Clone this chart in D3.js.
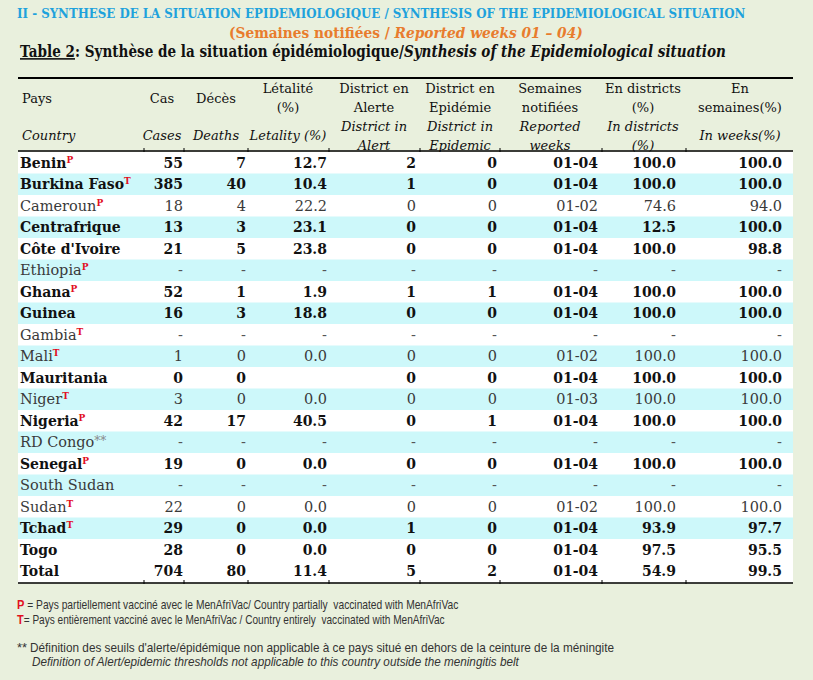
<!DOCTYPE html>
<html lang="fr">
<head>
<meta charset="UTF-8">
<title>Synthèse de la situation épidémiologique</title>
<script src="https://cdnjs.cloudflare.com/ajax/libs/d3/7.8.5/d3.min.js"></script>
<style>
  body { margin: 0; background: #e9f0dd; }
  svg { display: block; }
  .cell { font-family: "DejaVu Serif", serif; }
  .note { font-family: "Liberation Sans", "Open Sans", sans-serif; font-size: 12px; fill: #333; }
</style>
</head>
<body>
<svg id="chart" width="813" height="680"></svg>
<script>
const countries = ["Benin", "Burkina Faso", "Cameroun", "Centrafrique", "Côte d'Ivoire", "Ethiopia",
  "Ghana", "Guinea", "Gambia", "Mali", "Mauritania", "Niger", "Nigeria", "RD Congo**", "Senegal",
  "South Sudan", "Sudan", "Tchad", "Togo", "Total"];
const vaccine = ["P", "T", "P", "", "", "P", "P", "", "T", "T", "", "T", "P", "", "P", "", "T", "T", "", ""];
const boldRow = [1, 1, 0, 1, 1, 0, 1, 1, 0, 0, 1, 0, 1, 0, 1, 0, 0, 1, 1, 1];
// null = "-", "" = empty cell
const cases    = [55, 385, 18, 13, 21, null, 52, 16, null, 1, 0, 3, 42, null, 19, null, 22, 29, 28, 704];
const deaths   = [7, 40, 4, 3, 5, null, 1, 3, null, 0, 0, 0, 17, null, 0, null, 0, 0, 0, 80];
const letality = [12.7, 10.4, 22.2, 23.1, 23.8, null, 1.9, 18.8, null, 0, "", 0, 40.5, null, 0, null, 0, 0, 0, 11.4];
const alertD   = [2, 1, 0, 0, 0, null, 1, 0, null, 0, 0, 0, 0, null, 0, null, 0, 1, 0, 5];
const epidemicD = [0, 0, 0, 0, 0, null, 1, 0, null, 0, 0, 0, 1, null, 0, null, 0, 0, 0, 2];
const weeks    = ["01-04", "01-04", "01-02", "01-04", "01-04", null, "01-04", "01-04", null, "01-02",
  "01-04", "01-03", "01-04", null, "01-04", null, "01-02", "01-04", "01-04", "01-04"];
const inDistricts = [100, 100, 74.6, 12.5, 100, null, 100, 100, null, 100, 100, 100, 100, null, 100, null, 100, 93.9, 97.5, 54.9];
const inWeeks  = [100, 100, 94, 100, 98.8, null, 100, 100, null, 100, 100, 100, 100, null, 100, null, 100, 97.7, 95.5, 99.5];

const svg = d3.select("#chart");
const left = 18, right = 793;
const f1 = d3.format(".1f");

// value columns: right edge of the numbers
const columns = [
  {vals: cases, x: 183},
  {vals: deaths, x: 246},
  {vals: letality, x: 327, fmt: f1},
  {vals: alertD, x: 416},
  {vals: epidemicD, x: 497},
  {vals: weeks, x: 598},
  {vals: inDistricts, x: 676, fmt: f1},
  {vals: inWeeks, x: 782, fmt: f1}
];
const separators = [144, 184, 248, 329, 420, 500, 602, 686];

// squeeze a text horizontally so it spans exactly `width` px from (x, y)
function fitText(sel, x, y, width) {
  const natural = sel.node().getComputedTextLength();
  sel.attr("x", 0).attr("y", 0)
    .attr("transform", `translate(${x},${y}) scale(${width / natural},1)`);
}

// ---- titles ----
svg.append("text")
  .style("font", "bold 13.5px 'DejaVu Serif', serif").style("fill", "#1ea2dc")
  .text("II - SYNTHESE DE LA SITUATION EPIDEMIOLOGIQUE / SYNTHESIS OF THE EPIDEMIOLOGICAL SITUATION")
  .call(fitText, 17, 18, 729);

const t2 = svg.append("text")
  .style("font", "bold 15px 'DejaVu Serif', serif").style("fill", "#e87c2d");
t2.append("tspan").text("(Semaines notifiées / ");
t2.append("tspan").style("font-style", "italic").text("Reported weeks 01 – 04)");
t2.call(fitText, 229, 38, 354);

const t3 = svg.append("text")
  .style("font", "bold 16px 'DejaVu Serif', serif").style("fill", "#111");
t3.append("tspan").style("text-decoration", "underline").text("Table 2");
t3.append("tspan").text(": Synthèse de la situation épidémiologique/");
t3.append("tspan").style("font-style", "italic").text("Synthesis of the Epidemiological situation");
t3.call(fitText, 20, 57, 706);

// ---- header ----
const header = [
  {x: 22, anchor: "start", fr: [["Pays", 98]], en: [["Country", 135]]},
  {x: 162, fr: [["Cas", 98]], en: [["Cases", 135]]},
  {x: 216, fr: [["Décès", 98]], en: [["Deaths", 135]]},
  {x: 288, fr: [["Létalité", 88], ["(%)", 107]], en: [["Letality (%)", 135]]},
  {x: 374, fr: [["District en", 88], ["Alerte", 107]], en: [["District in", 126], ["Alert", 145]]},
  {x: 460, fr: [["District en", 88], ["Epidémie", 107]], en: [["District in", 126], ["Epidemic", 145]]},
  {x: 550, fr: [["Semaines", 88], ["notifiées", 107]], en: [["Reported", 126], ["weeks", 145]]},
  {x: 643, fr: [["En districts", 88], ["(%)", 107]], en: [["In districts", 126], ["(%)", 145]]},
  {x: 740, fr: [["En", 88], ["semaines(%)", 107]], en: [["In weeks(%)", 135]]}
];
header.forEach(h => {
  const lines = h.fr.map(d => ({t: d[0], y: d[1], it: false}))
    .concat(h.en.map(d => ({t: d[0], y: d[1], it: true})));
  svg.selectAll(null).data(lines).enter().append("text")
    .attr("class", "cell")
    .attr("x", h.x).attr("y", d => d.y).attr("dy", "0.35em")
    .attr("text-anchor", h.anchor || "middle")
    .style("font-size", "13px")
    .style("font-style", d => d.it ? "italic" : "normal")
    .style("fill", "#111")
    .text(d => d.t);
});

// ---- rows ----
const y = d3.scaleBand().domain(d3.range(countries.length)).range([152, 582]);

svg.selectAll(".band").data(countries).enter().append("rect")
  .attr("class", "band")
  .attr("x", left).attr("width", right - left)
  .attr("y", (d, i) => y(i)).attr("height", y.bandwidth() + 0.5)
  .style("fill", (d, i) => (i % 2 === 1 && d !== "Total") ? "#cdf8fa" : "#ffffff");

const rowText = (sel, i) => sel
  .style("font-size", boldRow[i] ? "14px" : "14.5px")
  .style("font-weight", boldRow[i] ? "bold" : "normal")
  .style("fill", boldRow[i] ? "#111" : "#3a3a3a");

countries.forEach((c, i) => {
  const cy = y(i) + y.bandwidth() / 2;
  const name = svg.append("text").attr("class", "cell")
    .attr("x", 20).attr("y", cy).attr("dy", "0.36em")
    .call(rowText, i);
  if (c.endsWith("**")) {
    name.append("tspan").text(c.slice(0, -2));
    name.append("tspan").style("fill", "#888").style("font-size", "12px").attr("dy", -2).text("**");
  } else {
    name.append("tspan").text(c);
  }
  if (vaccine[i]) {
    name.append("tspan").attr("dy", -5)
      .style("font-size", "9px").style("font-weight", "bold").style("fill", "#e2101f")
      .text(vaccine[i]);
  }
  columns.forEach(col => {
    const v = col.vals[i];
    if (v === "") return;
    svg.append("text").attr("class", "cell")
      .attr("x", col.x).attr("y", cy).attr("dy", "0.36em")
      .attr("text-anchor", "end")
      .call(rowText, i)
      .style("fill", v === null ? "#555" : (boldRow[i] ? "#111" : "#3a3a3a"))
      .text(v === null ? "-" : (col.fmt ? col.fmt(v) : v));
  });
});

// ---- rules ----
const rule = (y0, w) => svg.append("line")
  .attr("x1", left).attr("x2", right).attr("y1", y0).attr("y2", y0)
  .style("stroke", "#000").style("stroke-width", w);
rule(78, 2);
rule(151, 1.3);
rule(583, 1.5);
svg.selectAll(".tick").data(separators.concat(separators)).enter().append("line")
  .attr("x1", d => d).attr("x2", d => d)
  .attr("y1", (d, i) => i < separators.length ? 148 : 580)
  .attr("y2", (d, i) => i < separators.length ? 152 : 584)
  .style("stroke", "#000").style("stroke-width", 1);

// ---- notes ----
const notes = [
  {x: 17, y: 609, len: 442, parts: [["P", "#e2101f", true], [" = Pays partiellement vacciné avec le MenAfriVac/ Country partially  vaccinated with MenAfriVac"]]},
  {x: 17, y: 624, len: 428, parts: [["T", "#e2101f", true], ["= Pays entièrement vacciné avec le MenAfriVac / Country entirely  vaccinated with MenAfriVac"]]},
  {x: 17, y: 652, len: 10, parts: [["**"]]},
  {x: 30, y: 652, len: 585, parts: [["Définition des seuils d'alerte/épidémique non applicable à ce pays situé en dehors de la ceinture de la méningite"]]},
  {x: 32, y: 666, len: 487, italic: true, parts: [["Definition of Alert/epidemic thresholds not applicable to this country outside the meningitis belt"]]}
];
notes.forEach(n => {
  const t = svg.append("text").attr("class", "note")
    .style("font-style", n.italic ? "italic" : "normal")
    .style("white-space", "pre");
  n.parts.forEach(p => {
    const s = t.append("tspan").text(p[0]);
    if (p[1]) s.style("fill", p[1]);
    if (p[2]) s.style("font-weight", "bold").style("font-size", "13px");
  });
  t.call(fitText, n.x, n.y, n.len);
});
</script>
</body>
</html>
